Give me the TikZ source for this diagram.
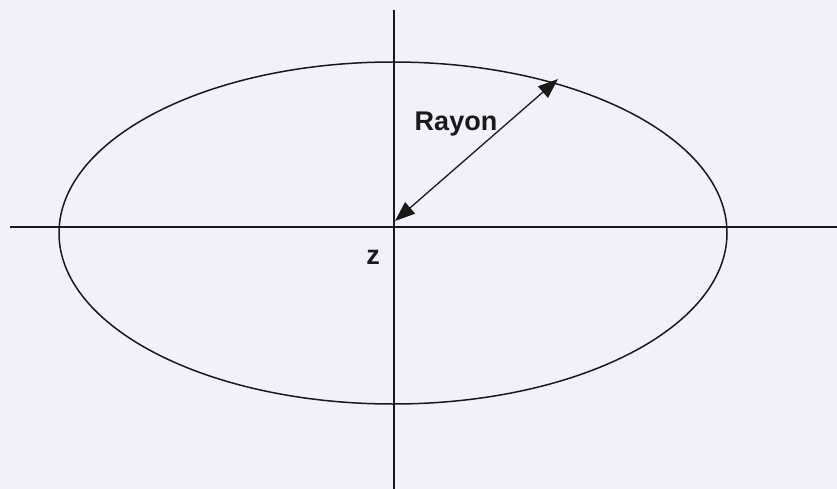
\documentclass[tikz,border=0pt]{standalone}
\usepackage{fontspec}
\setmainfont{Liberation Sans}
\usetikzlibrary{arrows.meta,shapes.geometric}
\definecolor{bgc}{RGB}{240,241,250}
\definecolor{ink}{RGB}{25,25,25}
\begin{document}
\begin{tikzpicture}[x=1pt,y=-1pt,
  axis/.style={draw=ink,line width=1.4pt},
  radius line/.style={draw=ink,line width=1.3pt,{Triangle[length=20pt,width=15pt]}-{Triangle[length=20pt,width=15pt]}},
  lbl/.style={font=\bfseries\fontsize{27}{29}\selectfont,text=ink,inner sep=0pt}]
\fill[bgc] (0,0) rectangle (837,489);
\useasboundingbox (0,0) rectangle (837,489);
% ellipse
\node[ellipse,draw=ink,line width=1.5pt,minimum width=668pt,minimum height=342pt,inner sep=0pt,outer sep=0pt] (ell) at (393,233) {};
% axes
\coordinate (hl) at (10,227);
\coordinate (hr) at (837,227);
\coordinate (vt) at (394,10);
\coordinate (vb) at (394,489);
\draw[axis] (hl) -- (hr);
\draw[axis] (vt) -- (vb);
% radius arrow
\coordinate (o) at (395,221);
\coordinate (r) at (558,79);
\draw[radius line] (o) -- (r);
% labels
\node[lbl] (rayon) at (456,124) {Rayon};
\node[lbl] (z) at (373,257) {z};
\end{tikzpicture}
\end{document}
